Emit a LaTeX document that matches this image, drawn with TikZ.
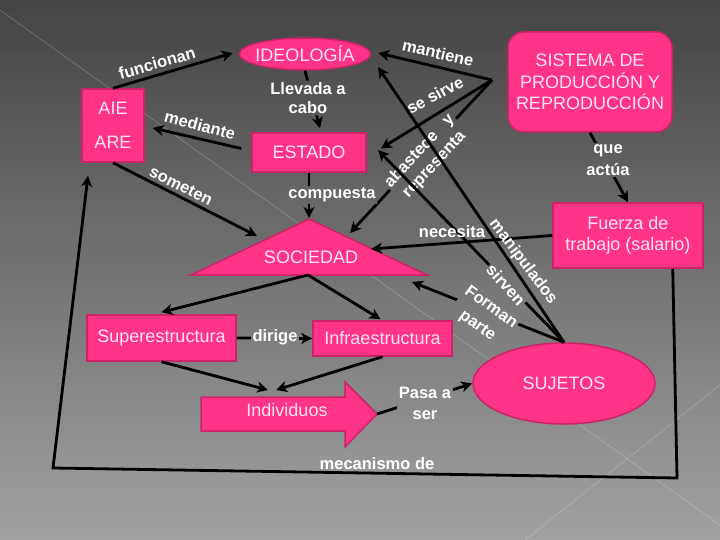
\documentclass[tikz,border=0pt]{standalone}
\usepackage{fontspec}
\setmainfont{Liberation Sans}
\usetikzlibrary{shapes.geometric,arrows.meta,calc}
\definecolor{bgtop}{RGB}{68,68,68}
\definecolor{bgbot}{RGB}{162,162,162}
\definecolor{pinkfill}{RGB}{255,51,136}
\definecolor{pinkline}{RGB}{205,35,105}
\definecolor{boxtext}{RGB}{255,228,240}
\begin{document}
\begin{tikzpicture}[x=1pt,y=-1pt,
  font=\fontsize{18}{20}\selectfont,
  pbox/.style={draw=pinkline, line width=1.5pt, fill=pinkfill, text=boxtext, inner sep=0pt, align=center},
  conn/.style={line width=2.8pt, draw=black},
  arr/.style={conn, -{Stealth[length=11pt,width=11pt,inset=3pt]}},
  lbl/.style={text=white, inner sep=0pt, align=center, font=\fontsize{16.5}{20}\selectfont\bfseries},
  lblg/.style={lbl, inner sep=1.5pt},
]
\useasboundingbox (0,0) rectangle (720,540);
% background: linear vertical gradient built from thin strips
\begin{scope}
\clip (0,0) rectangle (720,540);
\foreach \i in {0,...,179} {
  \pgfmathtruncatemacro\p{round((\i+0.5)/1.8)}
  \fill[bgbot!\p!bgtop] (0,3*\i) rectangle (720,3*\i+3.6);
}
\draw[white, opacity=0.25, line width=0.6pt] (0,10) -- (720,525);
\draw[white, opacity=0.25, line width=0.6pt] (720,385) -- (525,540);
\end{scope}

% nodes
\node[pbox, minimum width=62pt, minimum height=73pt] (aie) at (113,125.5) {AIE\\[14pt]ARE};
\node[pbox, ellipse, inner xsep=-4pt, minimum width=131pt, minimum height=32pt] (ideo) at (305,54) {IDEOLOGÍA};
\node[pbox, minimum width=114pt, minimum height=39pt] (estado) at (309,152.5) {ESTADO};
\node[pbox, minimum width=149pt, minimum height=46pt] (sup) at (161.5,338) {Superestructura};
\node[pbox, minimum width=139pt, minimum height=35pt] (inf) at (382.5,338.5) {Infraestructura};
\node[pbox, ellipse, minimum width=182pt, minimum height=81pt] (suj) at (564,383.5) {SUJETOS};
\node[pbox, rounded corners=16pt, minimum width=164pt, minimum height=100pt, font=\fontsize{18}{21.5}\selectfont] (sis) at (590,82) {SISTEMA DE\\PRODUCCIÓN Y\\REPRODUCCIÓN};
\node[pbox, minimum width=150pt, minimum height=65pt, font=\fontsize{18}{21}\selectfont] (fue) at (628,235.5) {Fuerza de\\trabajo (salario)};

% SOCIEDAD triangle
\coordinate (socA) at (309,219);
\coordinate (socR) at (427,275);
\coordinate (socL) at (191,275);
\coordinate (socB) at (308,275);
\filldraw[draw=pinkline, line width=1.5pt, fill=pinkfill, line join=miter] (socA) -- (socR) -- (socL) -- cycle;
\node[text=boxtext, inner sep=0pt] (soc) at (311,257) {SOCIEDAD};

% Individuos block arrow
\filldraw[draw=pinkline, line width=1.5pt, fill=pinkfill] (201,397) -- (345,397) -- (345,382) -- (377,414) -- (345,447) -- (345,431) -- (201,431) -- cycle;
\coordinate (indtip) at (377,414);
\node[text=boxtext, inner sep=0pt] (ind) at (287,410) {Individuos};

% labels that interrupt their connector
\node[lblg, font=\fontsize{16.5}{19}\selectfont\bfseries] (lllev) at (308,98) {Llevada a\\cabo};
\node[lblg] (lcomp) at (332,195) {compuesta};
\node[lblg, font=\fontsize{16.5}{22}\selectfont\bfseries] (lque) at (608,160) {que\\actúa};
\node[lblg] (ldir) at (275,337) {dirige};
\node[lblg, font=\fontsize{16.5}{21}\selectfont\bfseries] (lpasa) at (425,403) {Pasa a\\ser};
\node[lblg, rotate=47] (labas) at (427,158) {abastece\hspace{14pt}y\\representa};
\node[lblg, rotate=-48] (lsirv) at (506,285) {sirven};
\node[lblg, rotate=-36, font=\fontsize{16.5}{23}\selectfont\bfseries] (lform) at (484,317) {Forman\\parte};

% connectors (with gaps under their labels)
\coordinate (fan) at (492,80);
\begin{scope}[even odd rule]
\clip (-50,-50) -- (770,-50) -- (770,590) -- (-50,590) -- cycle
  (lllev.north west) -- (lllev.south west) -- (lllev.south east) -- (lllev.north east) -- cycle
  (lcomp.north west) -- (lcomp.south west) -- (lcomp.south east) -- (lcomp.north east) -- cycle
  (lque.north west) -- (lque.south west) -- (lque.south east) -- (lque.north east) -- cycle
  (ldir.north west) -- (ldir.south west) -- (ldir.south east) -- (ldir.north east) -- cycle
  (lpasa.north west) -- (lpasa.south west) -- (lpasa.south east) -- (lpasa.north east) -- cycle
  (labas.north west) -- (labas.south west) -- (labas.south east) -- (labas.north east) -- cycle;
\draw[arr] (aie.north) -- ($(ideo.west)+(-6,-1)$);
\draw[arr] (ideo.south) -- ($(estado.north)+(11,-4)$);
\draw[arr] ($(estado.west)+(-10,-4)$) -- ($(aie.east)+(8,2.5)$);
\draw[arr] (aie.south) -- (257,236);
\draw[arr] (estado.south) -- ($(socA)+(0,-1)$);
\draw[arr] (socB) -- ($(sup.north)+(0,-2)$);
\draw[arr] (socB) -- ($(inf.north)+(-2,-1)$);
\draw[arr] (sup.east) -- (inf.west);
\draw[arr] (sup.south) -- (268,390);
\draw[arr] (inf.south) -- (276,390);
\draw[arr] (indtip) -- (suj.west);
\draw[arr] (sis.south) -- (fue.north);
\draw[arr] (fue.west) -- (371,249);
\draw[arr] ($(fue.south east)+(-31,0)$) -- (677,478) -- (53,468) -- ($(aie.south)+(-25,13)$);
\draw[arr] (fan) -- ($(ideo.east)+(7,-1)$);
\draw[arr] (fan) -- ($(estado.east)+(14,-4)$);
\draw[arr] (fan) -- (350,233);
\end{scope}

% lines from SUJETOS
\begin{scope}[even odd rule]
\clip (-50,-50) -- (770,-50) -- (770,590) -- (-50,590) -- cycle
  (lsirv.north west) -- (lsirv.south west) -- (lsirv.south east) -- (lsirv.north east) -- cycle
  (lform.north west) -- (lform.south west) -- (lform.south east) -- (lform.north east) -- cycle;
\draw[arr] (suj.north) -- (378,67);
\draw[arr] (suj.north) -- (378,150);
\draw[arr] (suj.north) -- (412,282);
\end{scope}

% other labels
\node[lbl, rotate=16] (lfun) at (157,63) {funcionan};
\node[lbl, rotate=-15] (lmed) at (200,125) {mediante};
\node[lbl, rotate=-26] (lsom) at (181,186) {someten};
\node[lbl, rotate=-13] (lman) at (438,53) {mantiene};
\node[lbl, rotate=28] (lsesi) at (435,95) {se sirve};
\node[lbl] (lnec) at (452,232) {necesita};
\node[lbl, rotate=-53] (lmanip) at (523,262) {manipulados};
\node[lbl] (lmec) at (377,464) {mecanismo de};
\end{tikzpicture}
\end{document}
